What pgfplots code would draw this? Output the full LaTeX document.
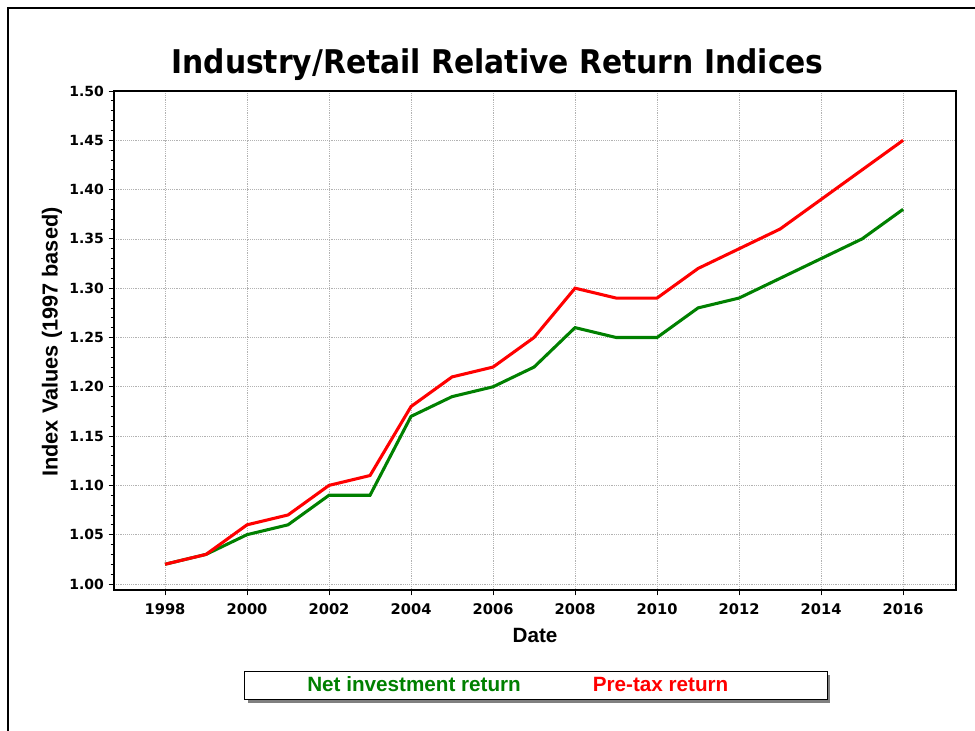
\documentclass[border=0pt]{standalone}
\usepackage{fontspec}
\setmainfont{Liberation Sans}
\newfontfamily\dejavu{DejaVu Sans}
\usepackage{pgfplots}
\pgfplotsset{compat=1.18}
\usetikzlibrary{shadows}
\definecolor{netgreen}{RGB}{0,128,0}
\definecolor{pretaxred}{RGB}{255,0,0}
\begin{document}
\begin{tikzpicture}
\useasboundingbox (0,0) rectangle (731.25pt,548.25pt);
\draw[line width=0.9pt] (6pt,-5pt) -- (6pt,542.25pt) -- (740pt,542.25pt);
\begin{axis}[
  at={(85.5pt,105.75pt)}, anchor=south west,
  scale only axis, width=631.5pt, height=374.25pt,
  xmin=1996.756, xmax=2017.29,
  ymin=0.9939, ymax=1.50,
  xtick={1998,2000,...,2016},
  ytick={1.00,1.05,...,1.51},
  minor x tick num=3,
  minor y tick num=4,
  tick pos=left,
  tick align=outside,
  major tick length=4pt,
  minor tick length=2.5pt,
  every tick/.style={black, line width=0.6pt},
  axis line style={line width=1.3pt},
  grid=major,
  major grid style={gray!60, densely dotted, line width=0.5pt},
  /pgf/number format/assume math mode=true,
  xticklabel style={font=\dejavu\bfseries\fontsize{11}{13}\selectfont, yshift=-2.5pt, /pgf/number format/1000 sep={}},
  yticklabel style={font=\dejavu\bfseries\fontsize{10.5}{12}\selectfont, /pgf/number format/.cd, fixed, fixed zerofill, precision=2},
  scaled y ticks=false,
  title={\scalebox{0.912}[1]{Industry/Retail Relative Return Indices}},
  title style={at={(axis description cs:0.4555,1.020)}, anchor=base, inner sep=0pt, font=\dejavu\bfseries\fontsize{24.5}{28}\selectfont},
  xlabel={Date},
  every axis x label/.style={at={(axis description cs:0.5,-0.0902)}, anchor=center, font=\bfseries\fontsize{15.5}{18}\selectfont},
  ylabel={Index Values (1997 based)},
  every axis y label/.style={at={(axis description cs:-0.0736,0.497)}, rotate=90, anchor=center, font=\bfseries\fontsize{16.3}{18}\selectfont},
  legend columns=2,
  legend image code/.code={},
  legend style={at={(axis description cs:0.501,-0.1914)}, anchor=center, draw=black, line width=0.8pt, fill=white,
    drop shadow={shadow xshift=2.5pt, shadow yshift=-2.5pt, fill=gray, opacity=1},
    inner xsep=0pt, inner ysep=2.2pt, font=\bfseries\fontsize{15.5}{18}\selectfont,
    /tikz/every even column/.append style={column sep=50pt}},
]
\addplot[netgreen, line width=2.3pt] coordinates {
(1998,1.02) (1999,1.03) (2000,1.05) (2001,1.06) (2002,1.09) (2003,1.09) (2004,1.17) (2005,1.19) (2006,1.20) (2007,1.22) (2008,1.26) (2009,1.25) (2010,1.25) (2011,1.28) (2012,1.29) (2013,1.31) (2014,1.33) (2015,1.35) (2016,1.38)};
\addlegendentry{\hspace*{45pt}\textcolor{netgreen}{Net investment return}}
\addplot[pretaxred, line width=2.3pt] coordinates {
(1998,1.02) (1999,1.03) (2000,1.06) (2001,1.07) (2002,1.10) (2003,1.11) (2004,1.18) (2005,1.21) (2006,1.22) (2007,1.25) (2008,1.30) (2009,1.29) (2010,1.29) (2011,1.32) (2012,1.34) (2013,1.36) (2014,1.39) (2015,1.42) (2016,1.45)};
\addlegendentry{\textcolor{pretaxred}{Pre-tax return}\hspace*{72pt}}
\end{axis}
\end{tikzpicture}
\end{document}
